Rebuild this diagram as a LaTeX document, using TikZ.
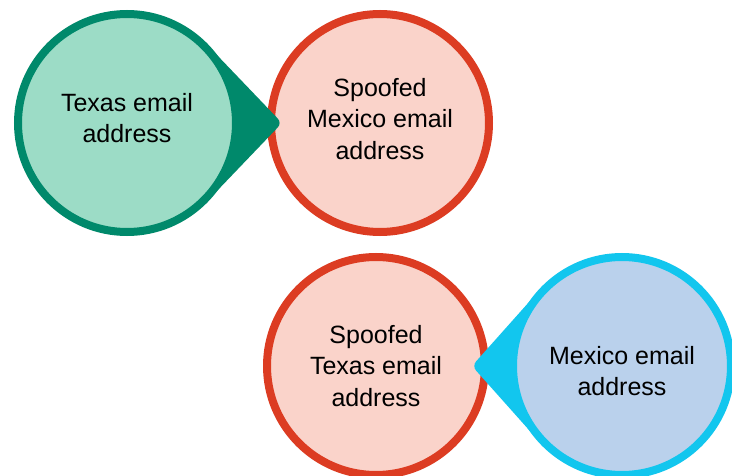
\documentclass[tikz,border=0pt]{standalone}
\usepackage{fontspec}
\setmainfont{Liberation Sans}
\usetikzlibrary{calc}
\definecolor{greenline}{HTML}{00896B}
\definecolor{greenfill}{HTML}{9CDCC6}
\definecolor{redline}{HTML}{DC3C22}
\definecolor{redfill}{HTML}{FAD3CA}
\definecolor{blueline}{HTML}{12C6EE}
\definecolor{bluefill}{HTML}{BAD1EC}
\tikzset{
  bubble/.style={circle, minimum size=218pt, inner sep=0pt, outer sep=0pt,
    line width=8pt},
  greenbubble/.style={bubble, draw=greenline, fill=greenfill},
  redbubble/.style={bubble, draw=redline, fill=redfill},
  bluebubble/.style={bubble, draw=blueline, fill=bluefill},
  caption/.style={align=center, inner sep=0pt,
    font=\fontsize{25}{31.5}\selectfont},
  pointer/.style={rounded corners=6pt}
}
\begin{document}
\begin{tikzpicture}[x=1pt,y=1pt]
  \clip (0,0) rectangle (732,475);
  \fill[white] (0,0) rectangle (732,475);

  % spoofed addresses
  \node[redbubble] (spmx) at (380,352) {};
  \node[caption] (spmxtext) at ([yshift=4pt]spmx.center) {Spoofed\\Mexico email\\address};
  \node[redbubble] (sptx) at (376,109) {};
  \node[caption] (sptxtext) at (sptx.center) {Spoofed\\Texas email\\address};

  % Texas bubble with its pointer to the right (sides tangent to the circle)
  \coordinate (txc) at (127,352);
  \coordinate (txtip) at (282,352);
  \fill[greenline, pointer] (txc) -- ($(txc)+(43:112)$) -- (txtip) -- ($(txc)+(-43:112)$) -- cycle;
  \node[greenbubble] (tx) at (txc) {};
  \node[caption] (txtext) at ([yshift=5pt]tx.center) {Texas email\\address};

  % Mexico bubble with its pointer to the left
  \coordinate (mxc) at (622,109);
  \coordinate (mxtip) at (472,109);
  \fill[blueline, pointer] (mxc) -- ($(mxc)+(139:112)$) -- (mxtip) -- ($(mxc)+(221:112)$) -- cycle;
  \node[bluebubble] (mx) at (mxc) {};
  \node[caption] (mxtext) at ([yshift=-5pt]mx.center) {Mexico email\\address};
\end{tikzpicture}
\end{document}
